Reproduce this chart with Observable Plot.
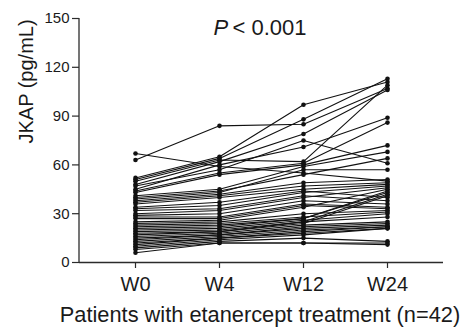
<!DOCTYPE html>
<html>
<head>
<meta charset="utf-8">
<script src="https://cdn.jsdelivr.net/npm/d3@7"></script>
<script src="https://cdn.jsdelivr.net/npm/@observablehq/plot@0.6"></script>
<style>
  html, body { margin: 0; padding: 0; background: #fff; }
  #chart { width: 470px; height: 327px; }
  svg { font-family: "Liberation Sans", Arial, Helvetica, sans-serif; }
</style>
</head>
<body>
<div id="chart"></div>
<script>
// Time points (x categories)
const weeks = ["W0", "W4", "W12", "W24"];
// y-axis tick labels
const yTicks = [0, 30, 60, 90, 120, 150];
// JKAP (pg/mL) per patient (n=42) at each time point
const w0  = [63, 67, 52, 51, 50, 48, 47, 45, 44, 43, 41, 40, 39, 38, 37, 36,
             34, 33, 32, 30, 29, 28, 27, 25, 24, 23, 22, 21, 20, 19, 18, 17, 16, 15, 14, 13, 12, 11, 10, 9, 8, 6];
const w4  = [84, 59, 65, 64, 63, 62, 57, 60, 55, 54, 45, 44, 43, 42, 41, 40,
             37, 35, 33, 32, 30, 28, 27, 26, 25, 24, 23, 22, 21, 20, 19, 19, 18, 17, 17, 16, 15, 15, 14, 13, 12, 12];
const w12 = [85, 55, 97, 88, 62, 79, 75, 71, 61, 60, 59, 54, 57, 49, 47, 45,
             44, 43, 41, 40, 38, 36, 35, 34, 30, 28, 27, 27, 26, 25, 25, 24, 23, 22, 21, 20, 19, 18, 17, 15, 12, 12];
const w24 = [107, 50, 111, 113, 109, 106, 61, 89, 86, 72, 68, 64, 57, 51, 49, 48,
             40, 47, 38, 46, 36, 34, 33, 45, 32, 31, 44, 43, 30, 42, 28, 41, 25, 24, 23, 22, 22, 21, 21, 13, 12, 11];
const titleP = "P";
const titleRest = "< 0.001";
const xLabel = "Patients with etanercept treatment (n=42)";
const yLabel = "JKAP (pg/mL)";

const series = [w0, w4, w12, w24];
const rows = [];
for (let p = 0; p < w0.length; p++) {
  weeks.forEach((wk, j) => rows.push({patient: p, week: wk, value: series[j][p]}));
}

const axisColor = "#2b2b2b";

function yAxisLine(index, scales, values, dimensions) {
  const line = document.createElementNS("http://www.w3.org/2000/svg", "line");
  const x = dimensions.marginLeft;
  line.setAttribute("x1", x);
  line.setAttribute("x2", x);
  line.setAttribute("y1", scales.y(yTicks[0]));
  line.setAttribute("y2", scales.y(yTicks[yTicks.length - 1]));
  line.setAttribute("stroke", axisColor);
  line.setAttribute("stroke-width", 1.3);
  return line;
}

const chart = Plot.plot({
  width: 470,
  height: 327,
  marginLeft: 79,
  marginRight: 27,
  marginTop: 18,
  marginBottom: 65,
  style: {background: "#fff", color: "#1a1a1a", fontFamily: "'Liberation Sans', Arial, sans-serif"},
  x: {type: "point", domain: weeks, padding: 0.66},
  y: {domain: [0, 150]},
  marks: [
    Plot.axisY({ticks: yTicks, tickSize: 7, tickPadding: 3, fontSize: 15, label: null, stroke: axisColor, strokeWidth: 1.2}),
    Plot.axisX({tickSize: 6, tickPadding: 8, fontSize: 20, label: null, stroke: axisColor, strokeWidth: 1.2}),
    Plot.ruleY([0], {stroke: axisColor, strokeWidth: 1.3}),
    yAxisLine,
    Plot.line(rows, {x: "week", y: "value", z: "patient", stroke: "#111", strokeWidth: 1.1}),
    Plot.dot(rows, {x: "week", y: "value", r: 2.3, fill: "#111", stroke: null}),
    Plot.text([titleP], {frameAnchor: "top", text: d => d, dx: -48, dy: 9, textAnchor: "start", lineAnchor: "middle", fontSize: 22, fontStyle: "italic", fill: "#1a1a1a"}),
    Plot.text([titleRest], {frameAnchor: "top", text: d => d, dx: -29, dy: 9, textAnchor: "start", lineAnchor: "middle", fontSize: 22, fill: "#1a1a1a"}),
    Plot.text([yLabel], {frameAnchor: "left", text: d => d, dx: -53, dy: 3, rotate: -90, lineAnchor: "middle", fontSize: 20, fill: "#1a1a1a"}),
    Plot.text([xLabel], {frameAnchor: "bottom", text: d => d, dx: -1.5, dy: 53, lineAnchor: "middle", fontSize: 21.8, fill: "#1a1a1a"})
  ]
});
document.getElementById("chart").appendChild(chart);
</script>
</body>
</html>
